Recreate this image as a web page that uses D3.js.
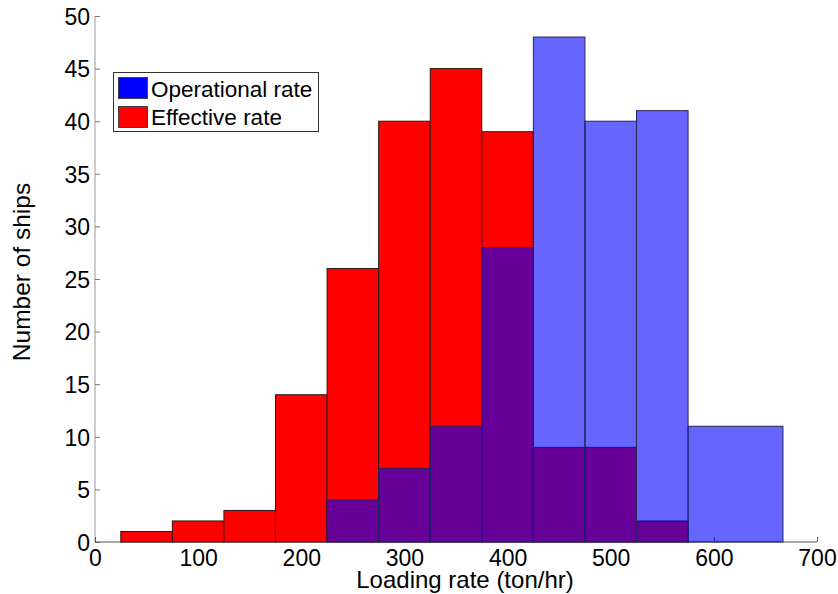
<!DOCTYPE html>
<html>
<head>
<meta charset="utf-8">
<script src="https://cdn.jsdelivr.net/npm/d3@7"></script>
<style>
    body { margin: 0; background: #fff; }
    svg text { font-family: "Liberation Sans", Arial, sans-serif; fill: #000; }
</style>
</head>
<body>
<div id="chart"></div>
<script>

// histogram bins (ton/hr)
const binStarts = [25, 75, 125, 175, 225, 275, 325, 375, 425, 475, 525, 575];
const binEnds = [75, 125, 175, 225, 275, 325, 375, 425, 475, 525, 575, 667];

// counts per bin
const effectiveRate = [1, 2, 3, 14, 26, 40, 45, 39, 9, 9, 2, 0];
const operationalRate = [0, 0, 0, 0, 4, 7, 11, 28, 48, 40, 41, 11];

const xTicks = [0, 100, 200, 300, 400, 500, 600, 700];
const yTicks = [0, 5, 10, 15, 20, 25, 30, 35, 40, 45, 50];

const legendLabels = ["Operational rate", "Effective rate"];

let width = 838, height = 594;

let svg = d3.select("#chart")
    .append("svg")
    .attr("width", width)
    .attr("height", height);

let x = d3.scaleLinear().domain([0, 700]).range([95, 817]);
let y = d3.scaleLinear().domain([0, 50]).range([542, 16]);

let toRows = (vals) => vals.map((v, i) => ({x0: binStarts[i], x1: binEnds[i], value: v}));

// axes (ticks pointing inward like matlab)
let yAxis = d3.axisLeft(y).tickValues(yTicks).tickSize(-5).tickPadding(5);
let xAxis = d3.axisBottom(x).tickValues(xTicks).tickSize(-5).tickPadding(8);

let yG = svg.append("g")
    .attr("transform", "translate(95,0)")
    .call(yAxis);
yG.select(".domain").attr("stroke", "#9a9a9a").attr("d", "M0," + y(50) + "V" + y(0));
yG.selectAll(".tick line").attr("stroke", "#777");
yG.selectAll(".tick text").attr("font-size", 23).attr("dy", "0.36em");

let xG = svg.append("g")
    .attr("transform", "translate(0,542)")
    .call(xAxis);
xG.select(".domain").attr("stroke", "#555").attr("d", "M" + x(0) + ",0H" + x(700));
xG.selectAll(".tick line").attr("stroke", "#555");
xG.selectAll(".tick text").attr("font-size", 23).attr("dy", "0.71em");

// effective rate bars (red)
svg.append("g").selectAll("rect")
    .data(toRows(effectiveRate).filter(d => d.value > 0))
    .enter().append("rect")
    .attr("x", d => x(d.x0))
    .attr("width", d => x(d.x1) - x(d.x0))
    .attr("y", d => y(d.value))
    .attr("height", d => y(0) - y(d.value))
    .attr("fill", "#ff0000")
    .attr("stroke", "#2a1a1a")
    .attr("stroke-width", 1);

// operational rate bars (blue, see-through)
svg.append("g").selectAll("rect")
    .data(toRows(operationalRate).filter(d => d.value > 0))
    .enter().append("rect")
    .attr("x", d => x(d.x0))
    .attr("width", d => x(d.x1) - x(d.x0))
    .attr("y", d => y(d.value))
    .attr("height", d => y(0) - y(d.value))
    .attr("fill", "#0000ff")
    .attr("fill-opacity", 0.6)
    .attr("stroke", "#24245a")
    .attr("stroke-width", 1);

// axis labels
svg.append("text")
    .attr("x", 465)
    .attr("y", 588)
    .attr("text-anchor", "middle")
    .attr("font-size", 24)
    .text("Loading rate (ton/hr)");

svg.append("text")
    .attr("transform", "translate(30,272) rotate(-90)")
    .attr("text-anchor", "middle")
    .attr("font-size", 24.5)
    .text("Number of ships");

// legend
let legend = svg.append("g");
legend.append("rect")
    .attr("x", 113.5).attr("y", 72.5)
    .attr("width", 205).attr("height", 59)
    .attr("fill", "#fff")
    .attr("stroke", "#333");

let legendColors = ["#0000ff", "#ff0000"];
legendLabels.forEach((label, i) => {
    legend.append("rect")
        .attr("x", 118.5).attr("y", 77.5 + i * 29)
        .attr("width", 29).attr("height", 21)
        .attr("fill", legendColors[i])
        .attr("stroke", "#444");
    legend.append("text")
        .attr("x", 151)
        .attr("y", 97 + i * 28)
        .attr("font-size", 22.5)
        .text(label);
});

</script>
</body>
</html>
